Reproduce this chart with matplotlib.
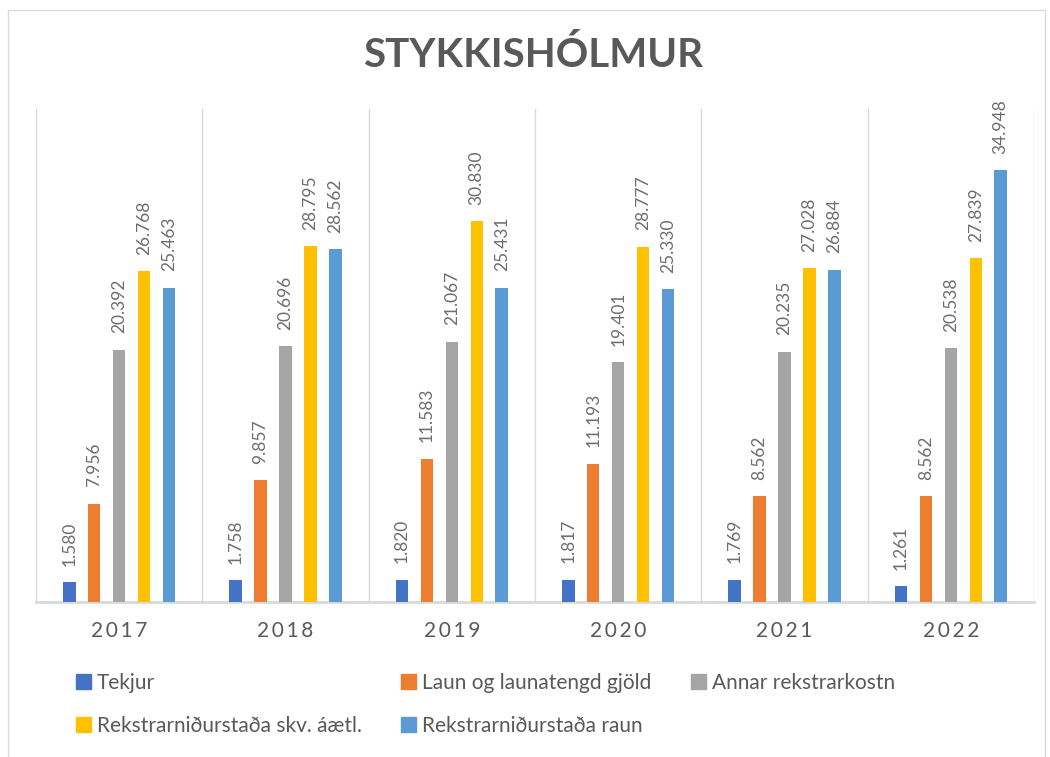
import matplotlib
matplotlib.use('Agg')
import matplotlib.pyplot as plt
from matplotlib.patches import Patch, Rectangle
import numpy as np

plt.rcParams['font.family'] = ['Lato', 'DejaVu Sans']

years = ['2017', '2018', '2019', '2020', '2021', '2022']
series_names = ['Tekjur', 'Laun og launatengd gjöld', 'Annar rekstrarkostn',
                'Rekstrarniðurstaða skv. áætl.', 'Rekstrarniðurstaða raun']
tekjur = [1.580, 1.758, 1.820, 1.817, 1.769, 1.261]
laun = [7.956, 9.857, 11.583, 11.193, 8.562, 8.562]
annar = [20.392, 20.696, 21.067, 19.401, 20.235, 20.538]
skv_aaetl = [26.768, 28.795, 30.830, 28.777, 27.028, 27.839]
raun = [25.463, 28.562, 25.431, 25.330, 26.884, 34.948]
colors = ['#4472C4', '#ED7D31', '#A5A5A5', '#FFC000', '#5B9BD5']

grey = '#595959'

fig = plt.figure(figsize=(10.5, 7.57), dpi=100)
ax = fig.add_axes([36/1050, 1 - 602/757, 998/1050, (602-108)/757])

# chart border
fig.patches.append(Rectangle((8/1050, -0.01), 1037/1050, 1.01 - 10/757,
                             transform=fig.transFigure, fill=False,
                             edgecolor='#D9D9D9', lw=1))

x = np.arange(len(years))
step = 0.15
width = 0.075
all_series = [tekjur, laun, annar, skv_aaetl, raun]
for i, vals in enumerate(all_series):
    pos = x + (i - 2) * step
    bars = ax.bar(pos, vals, width, color=colors[i], label=series_names[i], zorder=3)
    for b, v in zip(bars, vals):
        ax.annotate(f'{v:.3f}', (b.get_x() + b.get_width()/2, v),
                    xytext=(0, 12), textcoords='offset points',
                    rotation=90, ha='center', va='bottom',
                    color='#6d6d6d', fontsize=12.5)

ax.set_xlim(-0.5, len(years) - 0.5)
ax.set_ylim(0, 40)
ax.vlines(np.arange(len(years) + 1) - 0.5, 0, 40, color='#D9D9D9', lw=1, zorder=1)
for s in ['left', 'right', 'top']:
    ax.spines[s].set_visible(False)
ax.spines['bottom'].set_color('#D9D9D9')
ax.spines['bottom'].set_linewidth(2)
ax.set_yticks([])
ax.set_xticks(x)
# spaced out year labels like the excel chart
ax.set_xticklabels(['\u2009'.join(y) for y in years], color=grey, fontsize=15)
ax.tick_params(axis='x', length=0, pad=14)

fig.text(0.508, 1 - 55/757, 'STYKKISHÓLMUR', ha='center', va='center',
         fontsize=29, fontweight='bold', color=grey)

handles = [Patch(color=c) for c in colors]
order = [0, 3, 1, 4, 2]
fig.legend([handles[i] for i in order], [series_names[i] for i in order],
           ncol=3, loc='upper left', bbox_to_anchor=(76/1050, 1 - 673/757),
           frameon=False, fontsize=15, labelcolor=grey,
           handlelength=0.7, handleheight=0.7, handletextpad=0.3,
           columnspacing=1.9, labelspacing=1.1, borderpad=0, borderaxespad=0)

fig.savefig('out.png', dpi=100)
